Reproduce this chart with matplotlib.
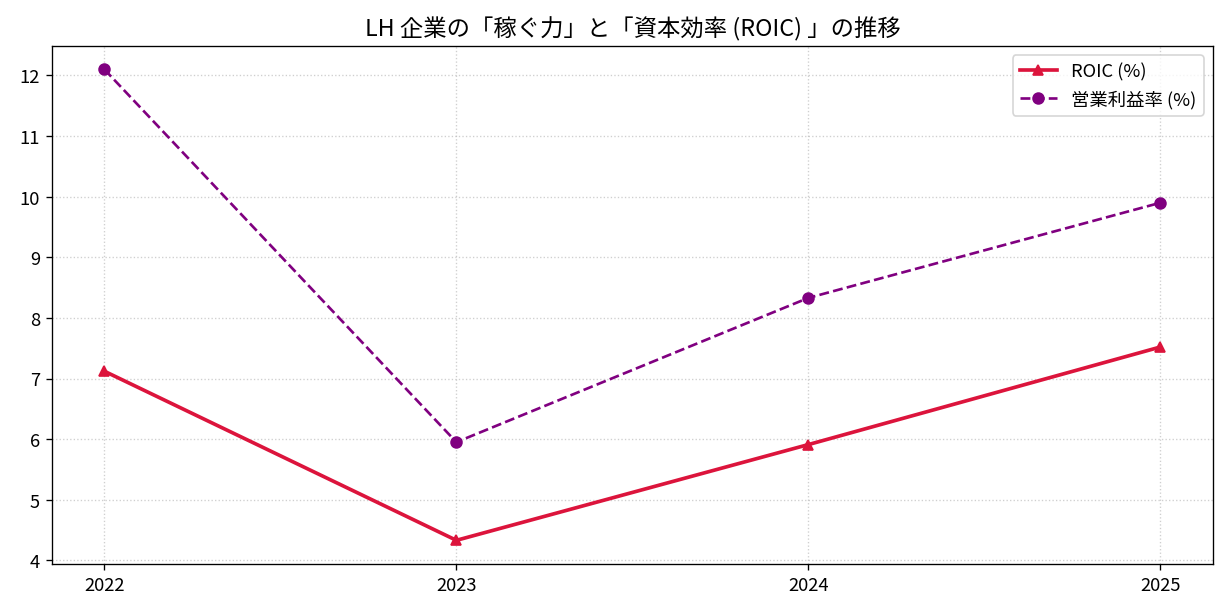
import matplotlib
matplotlib.use('Agg')
import matplotlib.pyplot as plt

plt.rcParams['font.family'] = ['Noto Sans CJK JP', 'DejaVu Sans']
plt.rcParams['axes.unicode_minus'] = False

# データ
years = [2022, 2023, 2024, 2025]
roic = [7.12, 4.33, 5.91, 7.52]
op_margin = [12.10, 5.95, 8.33, 9.90]

fig, ax = plt.subplots(figsize=(10.233, 5.133), dpi=120)

ax.plot(years, roic, marker='^', color='crimson', linewidth=2.2, markersize=6.5, label='ROIC (%)')
ax.plot(years, op_margin, marker='o', linestyle='--', color='purple', linewidth=1.6, markersize=6.5, label='営業利益率 (%)')

ax.set_title('LH 企業の「稼ぐ力」と「資本効率 (ROIC) 」の推移', fontsize=14)
ax.set_xticks(years)
ax.set_xticklabels([str(y) for y in years])
ax.tick_params(labelsize=11)
ax.grid(True, linestyle=':', alpha=0.6)
ax.legend(loc='upper right', fontsize=11)

plt.subplots_adjust(left=0.042, right=0.988, top=0.924, bottom=0.083)
plt.savefig('out.png', dpi=120)
plt.close()
